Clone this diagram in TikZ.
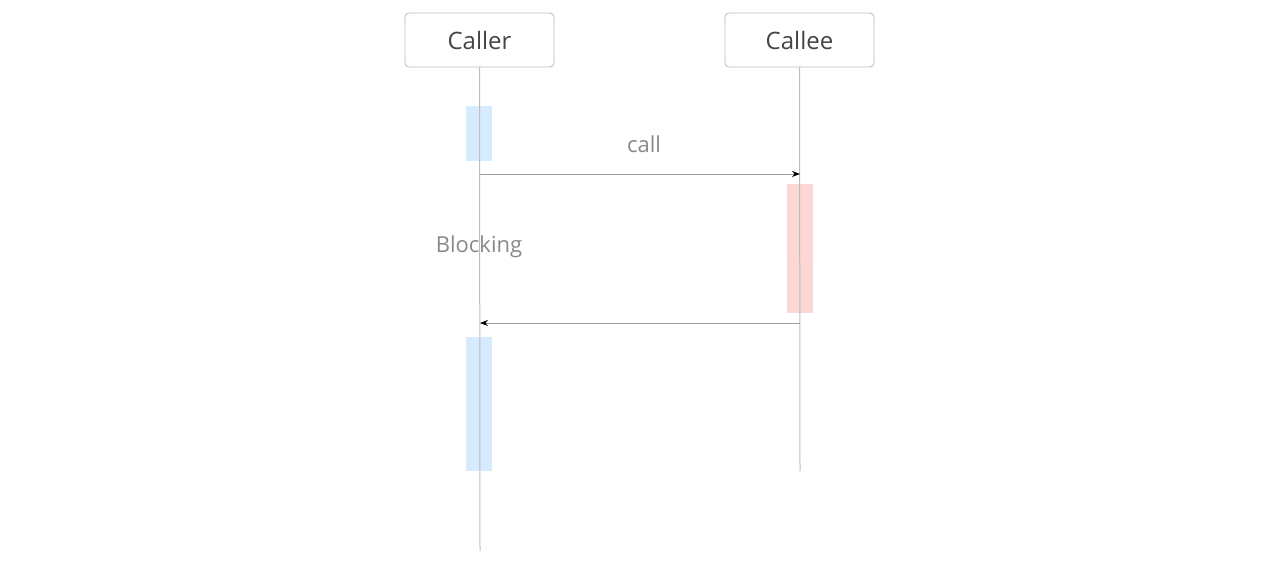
\documentclass[tikz,border=0pt]{standalone}
\usepackage{fontspec}
\setmainfont{Open Sans}
\usetikzlibrary{arrows.meta,positioning}
\definecolor{boxline}{HTML}{BBBBBB}
\definecolor{lifegray}{HTML}{BDBDBD}
\definecolor{msggray}{HTML}{9E9E9E}
\definecolor{textdark}{HTML}{444444}
\definecolor{textlight}{HTML}{888888}
\definecolor{actblue}{HTML}{D6EBFD}
\definecolor{actred}{HTML}{FDD6D6}

\begin{document}
\begin{tikzpicture}[x=1pt,y=-1pt,
  actor/.style={draw=boxline,line width=0.8pt,rounded corners=4pt,minimum width=149pt,minimum height=54pt,text=textdark,font=\fontsize{24}{28}\selectfont},
  life/.style={draw=lifegray,line width=1pt},
  msg/.style={draw=msggray,line width=0.8pt,-{Stealth[length=8pt,width=6pt,black]}},
  note/.style={text=textlight,font=\fontsize{22}{26}\selectfont}]
\useasboundingbox (0,0) rectangle (1280,566);
% activation bars
\fill[actblue] (466,106) rectangle (492,161);
\fill[actred] (787,184) rectangle (813,313);
\fill[actblue] (466,337) rectangle (492,471);
% lifelines
\node[actor] (caller) at (479.5,40) {Caller};
\node[actor] (callee) at (799.5,40) {Callee};
\coordinate (callerend) at (480,551);
\coordinate (calleeend) at (800,471);
\draw[life] (caller.south) -- (callerend);
\draw[life] (callee.south) -- (calleeend);
% messages
\coordinate (callout) at (480,174);
\coordinate (callin) at (800,174);
\coordinate (retout) at (800,323);
\coordinate (retin) at (480,323);
\draw[msg] (callout) -- (callin);
\draw[msg] (retout) -- (retin);
\node[note] (calllabel) at (644,144) {call};
\node[note] (blocking) at (479,247) {Blocking};
\end{tikzpicture}
\end{document}
